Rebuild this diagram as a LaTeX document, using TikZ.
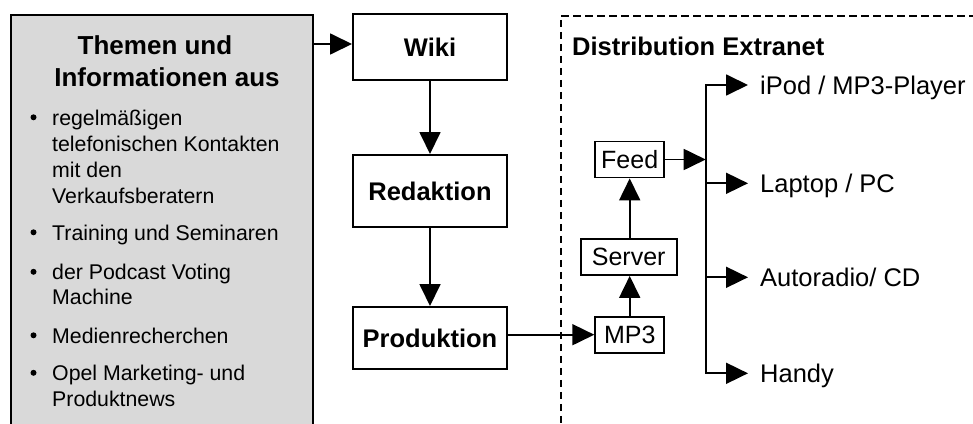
\documentclass[tikz,border=0pt]{standalone}
\usepackage{fontspec}
\setmainfont{Liberation Sans}
\usetikzlibrary{arrows.meta}
\definecolor{boxgray}{RGB}{217,217,217}
\tikzset{
  arr/.style={-{Triangle[length=22pt,width=21pt]}, line width=1.8pt},
  mainbox/.style={draw, line width=2pt, fill=white, minimum width=154pt, inner sep=0pt,
    font=\fontsize{25.5}{30}\selectfont\bfseries},
  smallbox/.style={draw, line width=1.8pt, fill=white, minimum height=36pt, inner sep=0pt,
    font=\fontsize{25}{30}\selectfont},
  listtext/.style={anchor=base west, inner sep=0pt, font=\fontsize{21.3}{25}\selectfont},
  titletext/.style={anchor=base, inner sep=0pt, font=\fontsize{26}{30}\selectfont\bfseries},
  outlabel/.style={anchor=base west, inner xsep=12pt, inner ysep=0pt, font=\fontsize{25.5}{30}\selectfont},
  bulletdot/.style={fill=black}
}
\begin{document}
\begin{tikzpicture}[x=1pt,y=-1pt]
\useasboundingbox (0,0) rectangle (973,423);
\clip (0,0) rectangle (973,423);

% gray info box
\node[draw, line width=2pt, fill=boxgray, anchor=north west, minimum width=302pt, minimum height=430pt, inner sep=0pt] (info) at (9.5,14) {};
\node[titletext] (t1) at (155,54.3) {Themen und};
\node[titletext] (t2) at (167,86) {Informationen aus};

\node[listtext] (l1) at (52,125) {regelmäßigen};
\node[listtext] (l2) at (52,151) {telefonischen Kontakten};
\node[listtext] (l3) at (52,177) {mit den};
\node[listtext] (l4) at (52,203) {Verkaufsberatern};
\node[listtext] (l5) at (52,240) {Training und Seminaren};
\node[listtext] (l6) at (52,279.5) {der Podcast Voting};
\node[listtext] (l7) at (52,304.5) {Machine};
\node[listtext] (l8) at (52,343) {Medienrecherchen};
\node[listtext] (l9) at (52,380.5) {Opel Marketing- und};
\node[listtext] (l10) at (52,406) {Produktnews};
\foreach \yy in {117.3,232.3,271.8,335.3,372.8} \fill[bulletdot] (33.5,\yy) circle (3pt);

% dashed extranet area
\node[draw, dashed, dash pattern=on 7.5pt off 4.5pt, line width=1.8pt, anchor=north west, minimum width=450pt, minimum height=440pt, inner sep=0pt] (extranet) at (560,15) {};
\node[anchor=base west, inner sep=0pt, font=\fontsize{25.5}{30}\selectfont\bfseries] (dist) at (572,55) {Distribution Extranet};

% main boxes
\node[mainbox, minimum height=66pt] (wiki) at (430,47) {Wiki};
\node[mainbox, minimum height=72pt] (red) at (430,191) {Redaktion};
\node[mainbox, minimum height=62pt] (prod) at (430,338) {Produktion};

% small boxes
\node[smallbox, minimum width=69pt] (feed) at (629.7,159.5) {Feed};
\node[smallbox, minimum width=96pt] (server) at (628.7,257) {Server};
\node[smallbox, minimum width=69pt] (mp3) at (629.7,334.7) {MP3};

% branch points
\coordinate (b1) at (705.7,85);
\coordinate (b2) at (705.7,183.3);
\coordinate (b3) at (705.7,277.3);
\coordinate (b4) at (705.7,373.3);
\coordinate (wy) at (0,44);

% output labels
\node[outlabel] (o1) at (748,94) {iPod / MP3-Player};
\node[outlabel] (o2) at (748,192.3) {Laptop / PC};
\node[outlabel] (o3) at (748,286.3) {Autoradio/ CD};
\node[outlabel] (o4) at (748,382.5) {Handy};

% connectors
\draw[arr] (info.east |- wy) -- (wiki.west |- wy);
\draw[arr] (wiki.south) -- (red.north);
\draw[arr] (red.south) -- (prod.north);
\draw[arr] (prod.east |- mp3.west) -- (mp3.west);
\draw[arr] (mp3.north) -- (mp3.north |- server.south);
\draw[arr] (feed.south |- server.north) -- (feed.south);
\draw[arr] (feed.east) -- (feed.east -| b1);
\draw[arr] (b4) -- (b1) -- (b1 -| o1.west);
\draw[arr] (b1) -- (b4) -- (b4 -| o4.west);
\draw[arr] (b2) -- (b2 -| o2.west);
\draw[arr] (b3) -- (b3 -| o3.west);
\end{tikzpicture}
\end{document}
